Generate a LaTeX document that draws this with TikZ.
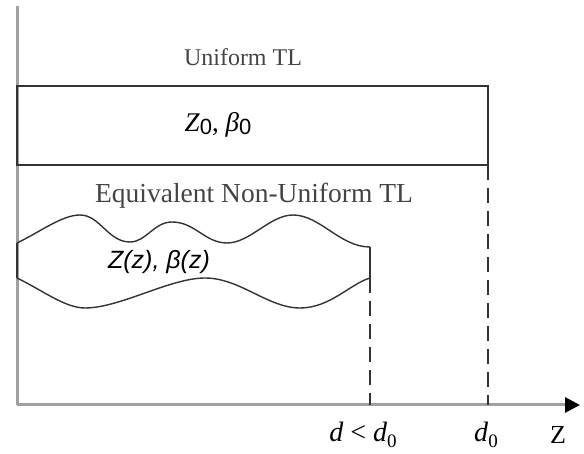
\documentclass[tikz,border=0pt]{standalone}
\usepackage{fontspec}
\setmainfont{Liberation Serif}
\setsansfont{Liberation Sans}
\usetikzlibrary{arrows.meta}
\definecolor{axisgray}{HTML}{A0A0A4}
\definecolor{linedark}{HTML}{333333}
\definecolor{textgray}{HTML}{444444}
\tikzset{
  axisline/.style={draw=axisgray, line width=3pt},
  tlline/.style={draw=linedark, line width=1.4pt},
  dashline/.style={draw=linedark, line width=1.4pt, dash pattern=on 15pt off 8pt},
  label/.style={inner sep=0pt, text=textgray},
  mathlabel/.style={inner sep=0pt, text=black},
}
\begin{document}
\begin{tikzpicture}[x=1pt,y=-1pt]
\useasboundingbox (0,0) rectangle (584,454);
% coordinates
\coordinate (ytop) at (17,6);
\coordinate (orig) at (17,405);
\coordinate (xend) at (580,405);
\coordinate (bTL) at (17,86);
\coordinate (bBR) at (488,165);
\coordinate (dA) at (488,165);
\coordinate (dAb) at (488,405);
\coordinate (nL1) at (17,243);
\coordinate (nL2) at (17,278);
\coordinate (nR1) at (370,247);
\coordinate (nR2) at (370,278);
\coordinate (nRb) at (370,405);
% axes
\draw[axisline] (ytop) -- (orig);
\draw[axisline, -{Triangle[length=15pt,width=15pt,color=black,fill=black]}] (orig) -- (xend);
% uniform TL box
\draw[tlline] (bTL) rectangle (bBR);
\draw[dashline] (dA) -- (dAb);
% non-uniform TL
\draw[tlline] (nL1) .. controls (40,232) and (62,215) .. (80,215)
  .. controls (100,215) and (108,242) .. (130,242)
  .. controls (146,242) and (154,222) .. (172,222)
  .. controls (195,222) and (205,243) .. (227,243)
  .. controls (250,243) and (270,215) .. (293,215)
  .. controls (320,215) and (340,247) .. (nR1);
\draw[tlline] (nL2) .. controls (42,290) and (65,308) .. (85,308)
  .. controls (120,308) and (170,278) .. (205,278)
  .. controls (240,278) and (268,308) .. (300,308)
  .. controls (330,308) and (350,284) .. (nR2);
\draw[tlline] (nL1) -- (nL2);
\draw[tlline] (nR1) -- (nR2);
\draw[dashline] (nR2) -- (nRb);
% labels
\node[label, font=\fontsize{24}{28}\selectfont] (uni) at (243,57) {Uniform TL};
\node[mathlabel, font=\fontsize{27}{30}\selectfont] (z0) at (218,125) {\textit{Z}{\sffamily\fontsize{22}{26}\selectfont\raisebox{-3pt}{0}}, \textit{β}{\sffamily\fontsize{22}{26}\selectfont\raisebox{-3pt}{0}}};
\node[label, font=\fontsize{27.5}{32}\selectfont] (equ) at (254,196) {Equivalent Non-Uniform TL};
\node[mathlabel, font=\sffamily\itshape\fontsize{25}{30}\selectfont] (zz) at (159,262) {Z(z), β(z)};
\node[mathlabel, font=\fontsize{28}{32}\selectfont] (dl) at (363,435) {\textit{d} < \textit{d}\raisebox{-6pt}{\fontsize{19}{22}\selectfont 0}};
\node[mathlabel, font=\fontsize{28}{32}\selectfont] (d0) at (486,435) {\textit{d}\raisebox{-6pt}{\fontsize{19}{22}\selectfont 0}};
\node[mathlabel, font=\fontsize{26}{30}\selectfont] (zl) at (558,435) {Z};
\end{tikzpicture}
\end{document}
